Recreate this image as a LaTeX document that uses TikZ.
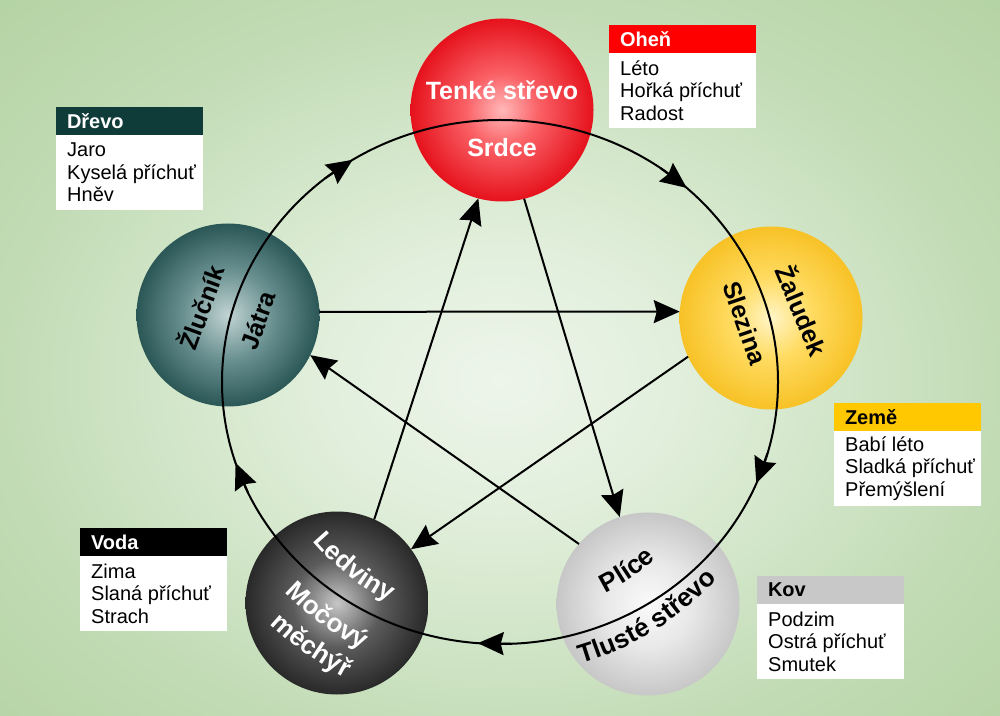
\documentclass[tikz,border=0pt]{standalone}
\usepackage{fontspec}
\setmainfont{Liberation Sans}
\usetikzlibrary{arrows.meta,decorations.text,calc}

\definecolor{hdrFire}{HTML}{FF0000}
\definecolor{hdrWood}{HTML}{0F3B39}
\definecolor{hdrEarth}{HTML}{FFC800}
\definecolor{hdrWater}{HTML}{000000}
\definecolor{hdrMetal}{HTML}{C8C8C8}

\pgfdeclareradialshading{bgshade}{\pgfpoint{0bp}{0bp}}{rgb(0bp)=(0.93,0.96,0.92); rgb(5bp)=(0.89,0.94,0.87); rgb(10bp)=(0.83,0.905,0.795); rgb(15.6bp)=(0.76,0.86,0.71); rgb(22bp)=(0.71,0.83,0.645); rgb(50bp)=(0.71,0.83,0.645)}
\pgfdeclareradialshading{redball}{\pgfpoint{0bp}{0bp}}{rgb(0bp)=(1,0.72,0.72); rgb(10bp)=(0.98,0.38,0.40); rgb(25bp)=(0.9,0.07,0.11); rgb(50bp)=(0.9,0.07,0.11)}
\pgfdeclareradialshading{yelball}{\pgfpoint{0bp}{0bp}}{rgb(0bp)=(1,0.96,0.78); rgb(11bp)=(1,0.86,0.38); rgb(25bp)=(0.97,0.76,0.15); rgb(50bp)=(0.97,0.76,0.15)}
\pgfdeclareradialshading{tealball}{\pgfpoint{0bp}{0bp}}{rgb(0bp)=(0.76,0.83,0.83); rgb(12bp)=(0.42,0.57,0.57); rgb(25bp)=(0.17,0.34,0.34); rgb(50bp)=(0.17,0.34,0.34)}
\pgfdeclareradialshading{darkball}{\pgfpoint{0bp}{0bp}}{rgb(0bp)=(0.78,0.78,0.78); rgb(12bp)=(0.36,0.36,0.36); rgb(25bp)=(0.16,0.16,0.16); rgb(50bp)=(0.16,0.16,0.16)}
\pgfdeclareradialshading{lgball}{\pgfpoint{0bp}{0bp}}{rgb(0bp)=(0.98,0.98,0.98); rgb(12bp)=(0.91,0.91,0.91); rgb(25bp)=(0.78,0.78,0.78); rgb(50bp)=(0.78,0.78,0.78)}

\newcommand{\curvefont}{\bfseries\fontsize{26}{30}\selectfont}

\begin{document}
\begin{tikzpicture}[x=1pt,y=1pt,
  ball/.style={circle, minimum size=183pt, inner sep=0pt, outer sep=0pt, shade},
  conn/.style={line width=2pt, -{Stealth[length=26pt,width=23pt,inset=3pt]}},
  ring/.style={line width=2pt},
  sphtxt/.style={font=\bfseries\fontsize{25}{30}\selectfont, inner sep=0pt},
  hdr/.style={anchor=north west, minimum width=147pt, minimum height=28pt, text width=125pt, inner xsep=11pt, inner ysep=0pt, outer sep=0pt, align=left, font=\bfseries\fontsize{20}{24}\selectfont},
  bodybox/.style={anchor=north west, fill=white, minimum width=147pt, minimum height=75pt, inner sep=0pt, outer sep=0pt},
  bodytxt/.style={anchor=west, align=left, inner sep=0pt, font=\fontsize{20}{22.5}\selectfont},
  curved/.style={decorate, decoration={text along path, text color=#1, text align=center}}
]
\useasboundingbox (0,0) rectangle (1000,715);
\begin{scope}
\clip (0,0) rectangle (1000,715);
\shade[shading=bgshade] (500,335) ellipse (800 and 600);
\end{scope}

\coordinate (O) at (500,333);

% spheres
\node[ball, shading=redball] (nFire) at (502,605) {};
\node[ball, shading=yelball] (nEarth) at (771,397) {};
\node[ball, shading=tealball] (nWood) at (228,400) {};
\node[ball, shading=darkball] (nWater) at (337,112) {};
\node[ball, shading=lgball] (nMetal) at (648,111) {};

% ring
\draw[ring] (O) ellipse (278 and 262);
\coordinate (r1a) at ({500+278*cos(54.8)},{333+262*sin(54.8)});
\coordinate (r1b) at ({500+278*cos(47.8)},{333+262*sin(47.8)});
\coordinate (r2a) at ({500+278*cos(-15.8)},{333+262*sin(-15.8)});
\coordinate (r2b) at ({500+278*cos(-22.8)},{333+262*sin(-22.8)});
\coordinate (r3a) at ({500+278*cos(-87.6)},{333+262*sin(-87.6)});
\coordinate (r3b) at ({500+278*cos(-94.6)},{333+262*sin(-94.6)});
\coordinate (r4a) at ({500+278*cos(-155)},{333+262*sin(-155)});
\coordinate (r4b) at ({500+278*cos(-162)},{333+262*sin(-162)});
\coordinate (r5a) at ({500+278*cos(129)},{333+262*sin(129)});
\coordinate (r5b) at ({500+278*cos(122)},{333+262*sin(122)});
\draw[conn] (r1a) -- (r1b);
\draw[conn] (r2a) -- (r2b);
\draw[conn] (r3a) -- (r3b);
\draw[conn] (r4a) -- (r4b);
\draw[conn] (r5a) -- (r5b);

% star
\draw[conn] (nWood.2.5) -- (nEarth.176);
\draw[conn] (nEarth.205) -- (nWater.36.7);
\draw[conn] (nWater.66) -- (nFire.255);
\draw[conn] (nFire.284) -- (nMetal.108);
\draw[conn] (nMetal.139) -- (nWood.334);

% sphere texts
\node[sphtxt, text=white, anchor=base] (tFire1) at (502,615) {Tenké střevo};
\node[sphtxt, text=white, anchor=base] (tFire2) at (502,558) {Srdce};
\node[sphtxt, rotate=70] (tWood1) at (200,408) {Žlučník};
\node[sphtxt, rotate=70] (tWood2) at (258,395) {Játra};
\node[sphtxt, rotate=-67] (tEarth1) at (803,405) {Žaludek};
\node[sphtxt, rotate=-71] (tEarth2) at (745,392) {Slezina};

\path[curved=white, decoration={text={|\curvefont|Ledviny}}] ($(O)+(-153.3:246)$) arc[start angle=-153.3, end angle=-103.3, radius=246];
\path[curved=white, decoration={text={|\curvefont|Močový}}] ($(O)+(-151.4:301)$) arc[start angle=-151.4, end angle=-101.4, radius=301];
\path[curved=white, decoration={text={|\curvefont|měchýř}}] ($(O)+(-150.6:334)$) arc[start angle=-150.6, end angle=-100.6, radius=334];
\path[curved=black, decoration={text={|\curvefont|Plíce}}] ($(O)+(-81:236)$) arc[start angle=-81, end angle=-31, radius=236];
\path[curved=black, decoration={text={|\curvefont|Tlusté střevo}}] ($(O)+(-83:293)$) arc[start angle=-83, end angle=-33, radius=293];

% label boxes
\node[hdr, fill=hdrFire, text=white] (hFire) at (609,690) {Oheň};
\node[bodybox] (bFire) at (hFire.south west) {};
\node[bodytxt] (xFire) at ([xshift=11pt]bFire.west) {Léto\\Hořká příchuť\\Radost};

\node[hdr, fill=hdrWood, text=white] (hWood) at (56,608) {Dřevo};
\node[bodybox] (bWood) at (hWood.south west) {};
\node[bodytxt] (xWood) at ([xshift=11pt]bWood.west) {Jaro\\Kyselá příchuť\\Hněv};

\node[hdr, fill=hdrEarth, text=black] (hEarth) at (834,312) {Země};
\node[bodybox] (bEarth) at (hEarth.south west) {};
\node[bodytxt] (xEarth) at ([xshift=11pt]bEarth.west) {Babí léto\\Sladká příchuť\\Přemýšlení};

\node[hdr, fill=hdrWater, text=white] (hWater) at (80,187) {Voda};
\node[bodybox] (bWater) at (hWater.south west) {};
\node[bodytxt] (xWater) at ([xshift=11pt]bWater.west) {Zima\\Slaná příchuť\\Strach};

\node[hdr, fill=hdrMetal, text=black] (hMetal) at (757,139) {Kov};
\node[bodybox] (bMetal) at (hMetal.south west) {};
\node[bodytxt] (xMetal) at ([xshift=11pt]bMetal.west) {Podzim\\Ostrá příchuť\\Smutek};
\end{tikzpicture}
\end{document}
